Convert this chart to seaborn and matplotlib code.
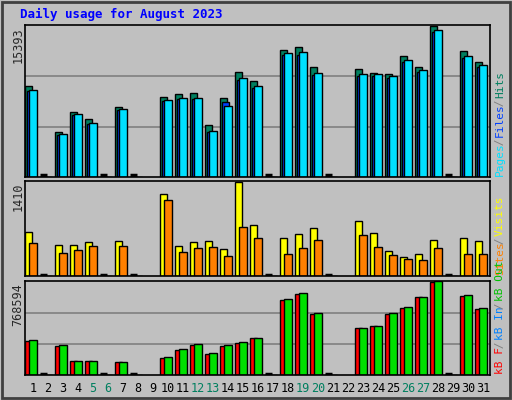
import numpy as np
import matplotlib
matplotlib.use("Agg")
import matplotlib.pyplot as plt
import seaborn as sns

sns.set_style("white")
plt.rcParams['font.family'] = ['DejaVu Sans Mono']

nan = np.nan
days = list(range(1, 32))
weekend = [5, 6, 12, 13, 19, 20, 26, 27]
# 0 = day with no traffic (stub), nan = no bar
hits = [9340, 0, 4620, 6670, 5950, 0, 7180, 0, nan, 8210, 8520, 8620, 5340, 8110, 10670, 9850, 0,
        12930, 13240, 11180, 0, nan, 10980, 10570, 10470, 12310, 11180, 15393, 0, 12830, 11700]
files = [8930, 0, 4410, 6460, 5540, 0, 6980, 0, nan, 7900, 8110, 8110, 4720, 7290, 10060, 9240, 0,
         12620, 12720, 10570, 0, nan, 10470, 10470, 10260, 11900, 10880, 14980, 0, 12310, 11390]
pages = [8800, 0, 4300, 6350, 5400, 0, 6850, 0, nan, 7750, 8000, 8000, 4600, 7700, 9950, 9100, 0,
         12450, 12500, 10400, 0, nan, 10350, 10350, 10100, 11750, 10700, 14850, 0, 12150, 11250]
visits = [660, 0, 465, 465, 510, 0, 525, 0, nan, 1230, 450, 510, 525, 405, 1410, 765, 0,
          570, 630, 720, 0, nan, 825, 645, 375, 285, 330, 540, 0, 570, 525]
sites = [495, 0, 345, 390, 450, 0, 450, 0, nan, 1140, 360, 420, 435, 300, 735, 570, 0,
         330, 420, 540, 0, nan, 615, 435, 315, 255, 240, 420, 0, 330, 330]
kb_out = [287000, 0, 245000, 118000, 118000, 0, 110000, 0, nan, 144000, 211000, 253000, 177000, 245000,
          270000, 304000, 0, 625000, 676000, 507000, 0, nan, 389000, 405000, 507000, 557000, 642000,
          768594, 0, 659000, 549000]
kb_in = [282000, 0, 242000, 116000, 116000, 0, 108000, 0, nan, 136000, 208000, 250000, 175000, 242000,
         266000, 300000, 0, 615000, 668000, 500000, 0, nan, 389000, 398000, 500000, 552000, 636000,
         765000, 0, 652000, 545000]

BG = "#c0c0c0"
fig = plt.figure(figsize=(5.12, 4.0), dpi=100, facecolor=BG)
fig.patches.append(plt.Rectangle((0.004, 0.005), 0.992, 0.99, transform=fig.transFigure,
                                 fill=False, edgecolor="#404040", linewidth=2))
fig.text(20/512, 1-14/400, "Daily usage for August 2023", color="#0000ff",
         fontsize=9, fontweight="bold", va="center")

x = np.array(days, dtype=float)
left, width = 25/512, 465/512
panels = [
    (1-177/400, 152/400, [(hits, "#007f5f", -0.55, 0.5), (pages, "#0040ff", -0.42, 0.5),
                          (files, "#00e0ff", -0.27, 0.54)], "15393", True),
    (1-276/400, 95/400, [(visits, "#ffff00", -0.55, 0.5), (sites, "#ff8000", -0.27, 0.54)], "1410", False),
    (1-375/400, 94/400, [(kb_in, "#ff0000", -0.55, 0.5), (kb_out, "#00e000", -0.27, 0.54)], "768594", True),
]
axes = []
for bottom, h, series, toplab, grid in panels:
    ax = fig.add_axes([left, bottom, width, h])
    ax.set_facecolor(BG)
    vmax = np.nanmax(series[0][0])
    ax.set_ylim(0, vmax * 1.008)
    ax.set_xlim(0.467, 31.47)
    if grid:
        for frac in (1/3, 2/3):
            ax.axhline(vmax * frac, color="#808080", linewidth=1.2, zorder=0)
    for vals, col, off, w in series:
        ax.bar(x + off, vals, width=w, align="edge", color=col, edgecolor="black", linewidth=1, zorder=2)
    # stubs for days with no traffic
    first = np.array(series[0][0], dtype=float)
    zero_days = x[first == 0]
    ax.hlines(np.full(len(zero_days), vmax * 0.012), zero_days - 0.55, zero_days - 0.05,
              color="black", linewidth=2.5, zorder=3)
    ax.set_yticks([])
    ax.set_xticks([])
    for s in ax.spines.values():
        s.set_color("black")
        s.set_linewidth(1.2)
    fig.text(18/512, bottom + h - 0.005, toplab, rotation=90, ha="center", va="top", fontsize=8.5)
    axes.append(ax)

# day labels
ax = axes[-1]
ax.set_xticks(days)
ax.set_xticklabels([str(d) for d in days], fontsize=8.5)
ax.tick_params(axis="x", length=0, pad=5)
for lab, d in zip(ax.get_xticklabels(), days):
    lab.set_color("#007f5f" if d in weekend else "black")

# right side legends, stacked bottom to top
def side_label(parts, y0):
    y = y0
    for txt, col in parts:
        fig.text(500/512, y, txt, rotation=90, color=col, fontsize=8,
                 ha="center", va="bottom")
        y += len(txt) * 4.85 / 400

side_label([("Pages", "#00e0ff"), (" / ", "#808080"), ("Files", "#0040ff"),
            (" / ", "#808080"), ("Hits", "#007f5f")], 1-176/400)
side_label([("Sites", "#ff8000"), (" / ", "#808080"), ("Visits", "#ffff00")], 1-275/400)
side_label([("kB F", "#ff0000"), (" / ", "#808080"), ("kB In", "#0080ff"),
            (" / ", "#808080"), ("kB Out", "#00c000")], 1-374/400)

fig.savefig("out.png", dpi=100, facecolor=BG)
